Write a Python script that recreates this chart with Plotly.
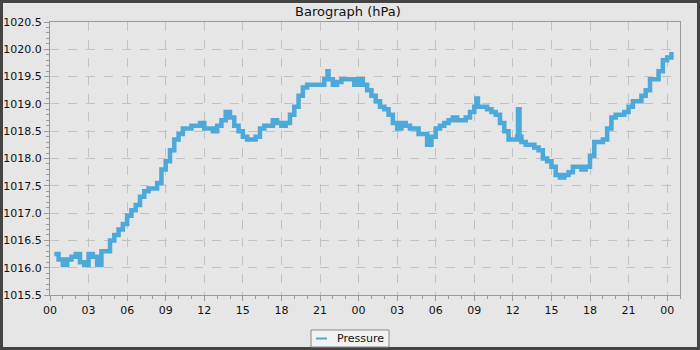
import pandas as pd
import plotly.graph_objects as go

# Pressure readings (hPa), every 20 minutes starting at 00:20 of day 1
pressure = [
    1016.25, 1016.15, 1016.05, 1016.15, 1016.2, 1016.25, 1016.1, 1016.05, 1016.25,
    1016.2, 1016.05, 1016.3, 1016.3, 1016.5, 1016.6, 1016.7, 1016.8, 1016.95,
    1017.05, 1017.15, 1017.3, 1017.4, 1017.45, 1017.45, 1017.55, 1017.8, 1017.95,
    1018.15, 1018.35, 1018.45, 1018.55, 1018.55, 1018.6, 1018.6, 1018.65, 1018.55,
    1018.55, 1018.5, 1018.6, 1018.7, 1018.85, 1018.75, 1018.6, 1018.5, 1018.4,
    1018.35, 1018.35, 1018.4, 1018.55, 1018.6, 1018.6, 1018.7, 1018.65, 1018.6,
    1018.65, 1018.8, 1018.95, 1019.15, 1019.3, 1019.35, 1019.35, 1019.35, 1019.35,
    1019.45, 1019.45, 1019.35, 1019.4, 1019.45, 1019.45, 1019.45, 1019.35, 1019.45,
    1019.35, 1019.25, 1019.15, 1019.05, 1018.95, 1018.9, 1018.8, 1018.65, 1018.55,
    1018.65, 1018.6, 1018.55, 1018.55, 1018.45, 1018.45, 1018.25, 1018.4, 1018.55,
    1018.6, 1018.65, 1018.7, 1018.75, 1018.7, 1018.7, 1018.75, 1018.85, 1018.95,
    1018.95, 1018.95, 1018.9, 1018.85, 1018.8, 1018.65, 1018.5, 1018.35, 1018.35,
    1018.4, 1018.3, 1018.25, 1018.25, 1018.2, 1018.15, 1018.0, 1017.95, 1017.85,
    1017.7, 1017.65, 1017.7, 1017.75, 1017.85, 1017.85, 1017.8, 1017.85, 1018.05,
    1018.3, 1018.3, 1018.35, 1018.55, 1018.75, 1018.8, 1018.8, 1018.85, 1018.95,
    1019.05, 1019.05, 1019.15, 1019.25, 1019.45, 1019.45, 1019.6, 1019.8, 1019.85,
    1019.95,
]
start_time = "2024-01-01 00:20"
interval = "20min"

# short-lived spikes in the record (time, value), each followed by a return reading
spike_times = ["2024-01-01 21:35", "2024-01-01 21:42",
               "2024-01-02 12:24", "2024-01-02 12:31",
               "2024-01-02 09:10", "2024-01-02 09:17"]
spike_values = [1019.6, 1019.45,
                1018.9, 1018.4,
                1019.1, 1018.95]

axis_start = "2024-01-01 00:00"
axis_end = "2024-01-03 01:00"
series_name = "Pressure"
title_text = "Barograph (hPa)"

base = pd.Series(pressure, index=pd.date_range(start=start_time, periods=len(pressure), freq=interval))
spikes = pd.Series(spike_values, index=pd.to_datetime(spike_times))
record = pd.concat([base, spikes]).sort_index()

LINE = "#4ca9da"
BG = "#e6e6e6"
GRID = "#c2c2c2"
AXIS = "#9a9a9a"
FONT = "DejaVu Sans"

# plot area in pixels: x 50..680, y 22..295
def px(x):
    return (x - 50) / 630

def py(y):
    return (295 - y) / 273

fig = go.Figure()
fig.add_trace(go.Scatter(
    x=record.index, y=record.values, mode="lines", name=series_name, showlegend=False,
    line=dict(color=LINE, width=4.5, shape="hv"),
))

fig.update_layout(
    width=700, height=350,
    margin=dict(l=50, r=20, t=22, b=55, autoexpand=False),
    paper_bgcolor=BG, plot_bgcolor=BG,
    font=dict(family=FONT, size=11, color="#111111"),
    title=dict(text=title_text, x=0.497, xanchor="center", y=1 - 11 / 350,
               yanchor="middle", font=dict(family=FONT, size=13, color="#111111")),
    showlegend=False,
    shapes=[
        # outer frame
        dict(type="rect", xref="paper", yref="paper",
             x0=px(0), x1=px(700), y0=py(350), y1=py(0),
             line=dict(color="#444444", width=6), layer="above"),
        # legend box
        dict(type="rect", xref="paper", yref="paper",
             x0=px(311), x1=px(389), y0=py(347), y1=py(330),
             fillcolor="#f2f2f2", line=dict(color="#888888", width=1), layer="above"),
        # legend key
        dict(type="line", xref="paper", yref="paper",
             x0=px(316), x1=px(327), y0=py(338.5), y1=py(338.5),
             line=dict(color=LINE, width=2), layer="above"),
    ],
    annotations=[
        dict(text=series_name, xref="paper", yref="paper", x=px(335), y=py(338.5),
             xanchor="left", yanchor="middle", showarrow=False,
             font=dict(family=FONT, size=11, color="#111111")),
    ],
)

fig.update_xaxes(
    type="date", range=[axis_start, axis_end], automargin=False,
    tick0=axis_start, dtick=3 * 3600 * 1000, tickformat="%H",
    ticks="outside", ticklen=5, tickcolor=AXIS,
    showline=True, linecolor=AXIS, linewidth=1, mirror=True,
    showgrid=True, gridcolor=GRID, griddash="dash", gridwidth=1,
    zeroline=False,
    minor=dict(dtick=3600 * 1000, ticks="outside", ticklen=3, tickcolor=AXIS, showgrid=False),
)
fig.update_yaxes(
    range=[1015.5, 1020.5], tick0=1015.5, dtick=0.5, tickformat=".1f", automargin=False,
    ticks="outside", ticklen=5, tickcolor=AXIS,
    showline=True, linecolor=AXIS, linewidth=1, mirror=True,
    showgrid=True, gridcolor=GRID, griddash="dash", gridwidth=1,
    zeroline=False,
    minor=dict(dtick=0.1, ticks="outside", ticklen=3, tickcolor=AXIS, showgrid=False),
)

fig.write_html("out.html")
